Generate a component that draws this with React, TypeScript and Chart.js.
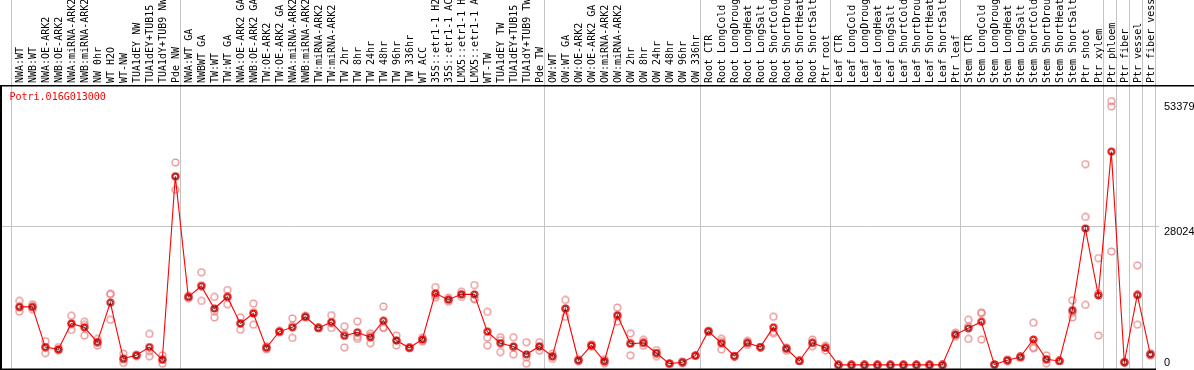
import React, { useEffect, useRef } from "react";
import { Chart, registerables } from "chart.js";

Chart.register(...registerables);

const geneName = "Potri.016G013000";

const categories = [
  "NWA:WT", "NWB:WT", "NWA:OE-ARK2", "NWB:OE-ARK2", "NWA:miRNA-ARK2", "NWB:miRNA-ARK2", "NW 0hr", "WT H2O", "WT-NW", "TUA1dEY NW", "TUA1dEY+TUB15 NW", "TUA1dY+TUB9 NW", "Pde NW",
  "NWA:WT GA", "NWBWT GA", "TW:WT", "TW:WT GA", "NWA:OE-ARK2 GA", "NWB:OE-ARK2 GA", "TW:OE-ARK2", "TW:OE-ARK2 GA", "NWA:miRNA-ARK2 GA", "NWB:miRNA-ARK2 GA", "TW:miRNA-ARK2", "TW:miRNA-ARK2", "TW 2hr", "TW 8hr", "TW 24hr", "TW 48hr", "TW 96hr", "TW 336hr", "WT ACC", "35S::etr1-1 H2O", "35S::etr1-1 ACC", "LMX5::etr1-1 H2O", "LMX5::etr1-1 ACC", "WT-TW", "TUA1dEY TW", "TUA1dEY+TUB15 TW", "TUA1dY+TUB9 TW", "Pde TW",
  "OW:WT", "OW:WT GA", "OW:OE-ARK2", "OW:OE-ARK2 GA", "OW:miRNA-ARK2", "OW:miRNA-ARK2", "OW 2hr", "OW 8hr", "OW 24hr", "OW 48hr", "OW 96hr", "OW 336hr",
  "Root CTR", "Root LongCold", "Root LongDrought", "Root LongHeat", "Root LongSalt", "Root ShortCold", "Root ShortDrought", "Root ShortHeat", "Root ShortSalt", "Ptr root",
  "Leaf CTR", "Leaf LongCold", "Leaf LongDrought", "Leaf LongHeat", "Leaf LongSalt", "Leaf ShortCold", "Leaf ShortDrought", "Leaf ShortHeat", "Leaf ShortSalt", "Ptr leaf",
  "Stem CTR", "Stem LongCold", "Stem LongDrought", "Stem LongHeat", "Stem LongSalt", "Stem ShortCold", "Stem ShortDrought", "Stem ShortHeat", "Stem ShortSalt", "Ptr shoot", "Ptr xylem",
  "Ptr phloem", "Ptr fiber", "Ptr vessel", "Ptr fiber vessel",
];

// index where each sample group starts (separator lines)
const groupStarts = [0, 13, 41, 53, 63, 73, 84, 85, 86, 87, 88];

const meanValues = [
  11740, 11740, 3600, 3140, 8400, 7600, 4600, 12610, 1270, 1940, 3600, 1070, 38170,
  13750, 15950, 11410, 13750, 8400, 10410, 3470, 6740, 7600, 9740, 7470, 8670, 5870, 6600, 5600, 8940, 4940, 3470, 5140, 14480, 13210, 14280, 14280, 6740, 4400, 3740, 2140, 3740,
  1740, 11410, 940, 3940, 740, 10070, 4270, 4470, 2400, 270, 540, 1870,
  6810, 4400, 1800, 4470, 3600, 7600, 3270, 800, 4470, 3470,
  0, 0, 0, 0, 0, 0, 0, 0, 0, 6140,
  7400, 8740, 70, 940, 1600, 5140, 1140, 800, 11070, 27620, 14070,
  43170, 540, 14150, 2140,
];

const rep1 = [
  12950, 12270, 4800, 3600, 9950, 8740, 5270, 14410, 2270, 2100, 6270, 1940, 40970,
  14000, 18750, 13750, 15150, 9610, 12410, 3800, 6900, 9410, 9900, 7600, 10070, 7810, 8810, 6400, 11810, 5940, 3600, 5540, 15750, 13610, 14810, 16150, 10740, 5600, 5600, 4600, 4600,
  2270, 13150, 1140, 4200, 1140, 11610, 6400, 5070, 3000, 270, 740, 1870,
  6940, 5270, 1800, 4870, 3600, 9740, 3540, 800, 5140, 3870,
  0, 0, 0, 0, 0, 0, 0, 0, 0, 6540,
  9140, 10610, 70, 1140, 1800, 8540, 1940, 800, 13070, 40630, 21620,
  53379, 540, 20150, 2400,
];

const rep2 = [
  11600, 11700, 3600, 3140, 8200, 8100, 4600, 14300, 1100, 1940, 2800, 1000, 38100,
  13750, 16150, 10870, 13830, 8450, 10680, 3470, 6740, 7930, 9740, 7470, 8470, 6260, 5720, 6000, 7540, 4940, 3470, 5140, 14080, 13210, 14280, 13420, 5540, 5000, 3480, 1550, 3740,
  1740, 11340, 940, 3940, 740, 9790, 4470, 4470, 2400, 270, 540, 1870,
  6810, 4790, 1800, 4470, 3600, 6660, 3270, 800, 4470, 3470,
  0, 0, 0, 0, 0, 0, 0, 0, 0, 6140,
  7800, 10470, 70, 940, 1600, 3480, 1140, 800, 10530, 29960, 14470,
  52300, 540, 14160, 2140,
];

const rep3 = [
  10800, 11270, 2400, 2940, 7070, 5940, 3940, 9140, 400, 1800, 1740, 270, 35430,
  13470, 12950, 9610, 12270, 7140, 8140, 3140, 6600, 5470, 9580, 7340, 7470, 3540, 5270, 4400, 7470, 3940, 3340, 4740, 13610, 12810, 13750, 13270, 3940, 2600, 2140, 270, 2880,
  1200, 9740, 740, 3680, 340, 8810, 1940, 3870, 1800, 270, 340, 1870,
  6680, 3140, 1800, 4070, 3600, 6400, 2860, 800, 3800, 2940,
  0, 0, 0, 0, 0, 0, 0, 0, 0, 5740,
  5270, 5140, 70, 740, 1400, 3400, 340, 800, 9610, 12150, 5940,
  22960, 540, 8140, 1880,
];

const yTickValues = [53379, 28024, 0];
const yMax = 56048;

function makeRing(outer: string, inner: string | null): HTMLCanvasElement {
  const c = document.createElement("canvas");
  c.width = 9;
  c.height = 9;
  const g = c.getContext("2d")!;
  g.strokeStyle = outer;
  g.lineWidth = 1.3;
  g.beginPath();
  g.arc(4.5, 4.5, 3.4, 0, Math.PI * 2);
  g.stroke();
  if (inner) {
    g.strokeStyle = inner;
    g.lineWidth = 0.8;
    g.beginPath();
    g.arc(4.5, 4.5, 2.3, 0, Math.PI * 2);
    g.stroke();
  }
  return c;
}

const framePlugin = {
  id: "frame",
  beforeDatasetsDraw(chart: any) {
    const ctx = chart.ctx as CanvasRenderingContext2D;
    const xs = chart.scales.x;
    const ys = chart.scales.y;
    const H = chart.height;
    const x0 = xs.getPixelForValue(0);
    const step = xs.getPixelForValue(1) - x0;
    ctx.save();
    // group separators
    ctx.strokeStyle = "#c4c4c4";
    ctx.lineWidth = 1;
    groupStarts.forEach((k) => {
      const px = Math.round(x0 + k * step - 8) + 0.5;
      ctx.beginPath();
      ctx.moveTo(px, 0);
      ctx.lineTo(px, H);
      ctx.stroke();
    });
    // middle gridline
    const gy = Math.round(ys.getPixelForValue(yTickValues[1])) + 0.5;
    ctx.beginPath();
    ctx.moveTo(1, gy);
    ctx.lineTo(1159, gy);
    ctx.stroke();
    // category labels, rotated
    ctx.fillStyle = "#000";
    ctx.font = "10px 'DejaVu Sans Mono'";
    ctx.textAlign = "left";
    ctx.textBaseline = "middle";
    categories.forEach((lab, i) => {
      const px = xs.getPixelForValue(i);
      ctx.save();
      ctx.translate(px + 1.5, 83);
      ctx.rotate(-Math.PI / 2);
      ctx.fillText(lab, 0, 0);
      ctx.restore();
    });
    // title
    ctx.fillStyle = "#ff0000";
    ctx.textBaseline = "middle";
    ctx.fillText(geneName, 9.5, 97.5);
    ctx.restore();
  },
  afterDatasetsDraw(chart: any) {
    const ctx = chart.ctx as CanvasRenderingContext2D;
    const ys = chart.scales.y;
    const W = chart.width;
    const H = chart.height;
    ctx.save();
    ctx.fillStyle = "#000";
    ctx.fillRect(0, 85, W, 1.5);
    ctx.fillRect(0, 85, 2, H - 85);
    ctx.fillRect(0, 368.5, 1156, 1.5);
    // right-side value labels
    ctx.font = "11px 'Liberation Sans'";
    ctx.textAlign = "left";
    ctx.textBaseline = "top";
    yTickValues.forEach((v) => {
      const py = Math.min(ys.getPixelForValue(v), H - 13.5);
      ctx.fillText(String(v), 1164, py + 0.5);
    });
    ctx.restore();
  },
};

export default function App() {
  const ref = useRef<HTMLCanvasElement>(null);
  useEffect(() => {
    if (!ref.current) return;
    const meanRing = makeRing("#ff0000", "#200000");
    const repRing = makeRing("rgba(232,130,130,0.9)", null);
    const repDataset = (data: number[]) => ({
      type: "line" as const,
      data,
      showLine: false,
      pointStyle: repRing,
      pointRadius: 4,
      pointHoverRadius: 4,
      order: 2,
      clip: false as any,
    });
    const chart = new Chart(ref.current, {
      type: "line",
      data: {
        labels: categories,
        datasets: [
          {
            data: meanValues,
            borderColor: "#ff0000",
            borderWidth: 1.1,
            pointStyle: meanRing,
            pointRadius: 4,
            pointHoverRadius: 4,
            tension: 0,
            order: 0,
            clip: false as any,
          },
          repDataset(rep1),
          repDataset(rep2),
          repDataset(rep3),
        ],
      },
      options: {
        animation: false,
        responsive: false,
        devicePixelRatio: 1,
        events: [],
        layout: { padding: { left: 12.8, right: 37.2, top: 88, bottom: 2 } },
        plugins: { legend: { display: false }, tooltip: { enabled: false }, title: { display: false } },
        scales: {
          x: { type: "category", offset: true, display: false },
          y: { type: "linear", min: 0, max: yMax, display: false },
        },
      },
      plugins: [framePlugin],
    });
    return () => chart.destroy();
  }, []);
  return (
    <div style={{ position: "fixed", left: 0, top: 0, width: 1194, height: 370, background: "#fff" }}>
      <canvas ref={ref} width={1194} height={370} style={{ display: "block", width: 1194, height: 370 }} />
    </div>
  );
}
